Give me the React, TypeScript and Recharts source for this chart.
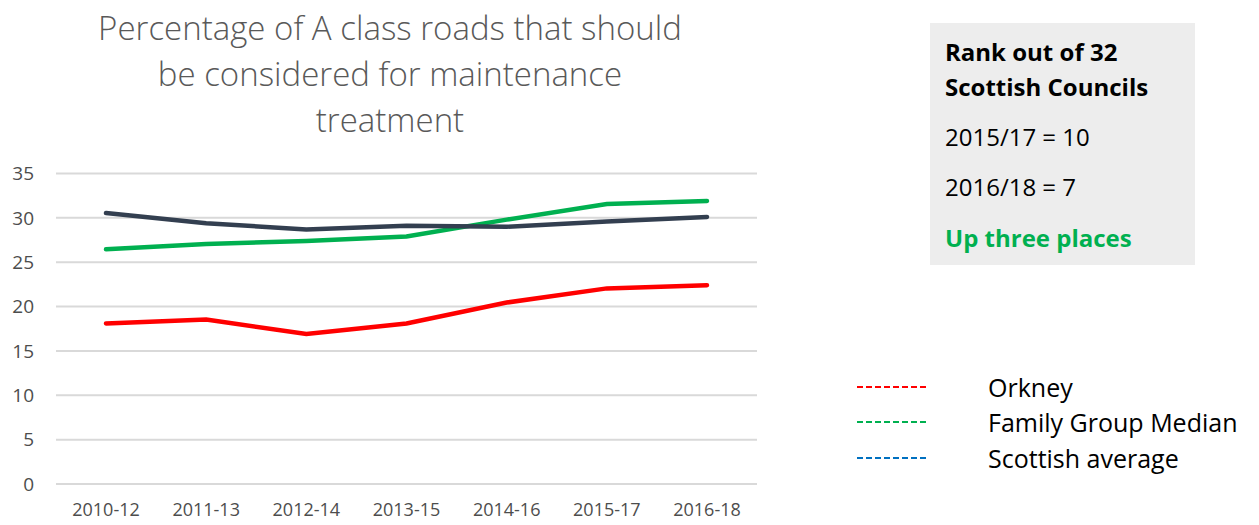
import React from "react";
import {
  LineChart,
  Line,
  XAxis,
  YAxis,
  CartesianGrid,
} from "recharts";

const periods = ["2010-12", "2011-13", "2012-14", "2013-15", "2014-16", "2015-17", "2016-18"];
const orkney = [18.1, 18.55, 16.9, 18.1, 20.45, 22.05, 22.4];
const familyMedian = [26.45, 27.05, 27.4, 27.9, 29.8, 31.55, 31.9];
const scottishAvg = [30.55, 29.4, 28.7, 29.1, 29.0, 29.6, 30.1];
const yTicks = [0, 5, 10, 15, 20, 25, 30, 35];

const seriesNames = ["Orkney", "Family Group Median", "Scottish average"];
const lineColors = ["#FF0000", "#00B050", "#333F50"];
// legend in the original uses blue for the average, not the line colour
const legendColors = ["#FF0000", "#00B050", "#0070C0"];

const boxLines = ["2015/17 = 10", "2016/18 = 7"];

const data = periods.map((p, i) => ({
  period: p,
  orkney: orkney[i],
  median: familyMedian[i],
  scotland: scottishAvg[i],
}));

const FONT = "'Open Sans', 'Liberation Sans', sans-serif";

function LegendBox() {
  return (
    <div style={{ position: "absolute", left: 856, top: 369, fontFamily: FONT }}>
      {seriesNames.map((name, i) => (
        <div key={name} style={{ display: "flex", alignItems: "center", height: 35.5 }}>
          <svg width={72} height={4} style={{ marginRight: 60 }}>
            <line x1={1} y1={2} x2={71} y2={2} stroke={legendColors[i]} strokeWidth={2} strokeDasharray="6 3" />
          </svg>
          <span style={{ fontSize: 25, color: "#000", whiteSpace: "nowrap" }}>{name}</span>
        </div>
      ))}
    </div>
  );
}

export default function App() {
  return (
    <div style={{ position: "absolute", left: 0, top: 0, width: 1259, height: 525, background: "#fff", fontFamily: FONT }}>
      <div
        style={{
          position: "absolute",
          left: 90,
          top: 5,
          width: 600,
          textAlign: "center",
          fontSize: 33,
          lineHeight: "46px",
          color: "#595959",
          fontWeight: 300,
        }}
      >
        Percentage of A class roads that should be considered for maintenance treatment
      </div>

      <div
        style={{
          position: "absolute",
          left: 930,
          top: 23,
          width: 265,
          height: 242,
          background: "#EDEDED",
          boxSizing: "border-box",
          padding: "11px 0 0 15px",
          color: "#000",
          fontSize: 24,
        }}
      >
        <div style={{ fontWeight: 700, lineHeight: "35px" }}>Rank out of 32</div>
        <div style={{ fontWeight: 700, lineHeight: "35px" }}>Scottish Councils</div>
        {boxLines.map((t, i) => (
          <div key={t} style={{ lineHeight: "50px", marginTop: i === 0 ? 8 : 0 }}>{t}</div>
        ))}
        <div style={{ fontWeight: 700, lineHeight: "52px", color: "#00B050" }}>Up three places</div>
      </div>

      <LegendBox />

      <LineChart width={1259} height={525} data={data} margin={{ top: 173.5, right: 502, bottom: 0, left: 0 }}>
        <CartesianGrid vertical={false} stroke="#D9D9D9" strokeWidth={2} />
        <XAxis
          dataKey="period"
          axisLine={false}
          tickLine={false}
          tickSize={0}
          tickMargin={19}
          height={41}
          interval={0}
          padding={{ left: 50, right: 50 }}
          tick={{ fill: "#4D4D4D", fontSize: 18, fontFamily: FONT }}
        />
        <YAxis
          domain={[0, 35]}
          ticks={yTicks}
          axisLine={false}
          tickLine={false}
          tickSize={0}
          tickMargin={22}
          width={56}
          tick={{ fill: "#4D4D4D", fontSize: 19, fontFamily: FONT }}
        />
        <Line dataKey="orkney" name={seriesNames[0]} stroke={lineColors[0]} strokeWidth={4.5} dot={false} strokeLinecap="round" isAnimationActive={false} />
        <Line dataKey="median" name={seriesNames[1]} stroke={lineColors[1]} strokeWidth={4.5} dot={false} strokeLinecap="round" isAnimationActive={false} />
        <Line dataKey="scotland" name={seriesNames[2]} stroke={lineColors[2]} strokeWidth={4.5} dot={false} strokeLinecap="round" isAnimationActive={false} />
      </LineChart>
    </div>
  );
}
